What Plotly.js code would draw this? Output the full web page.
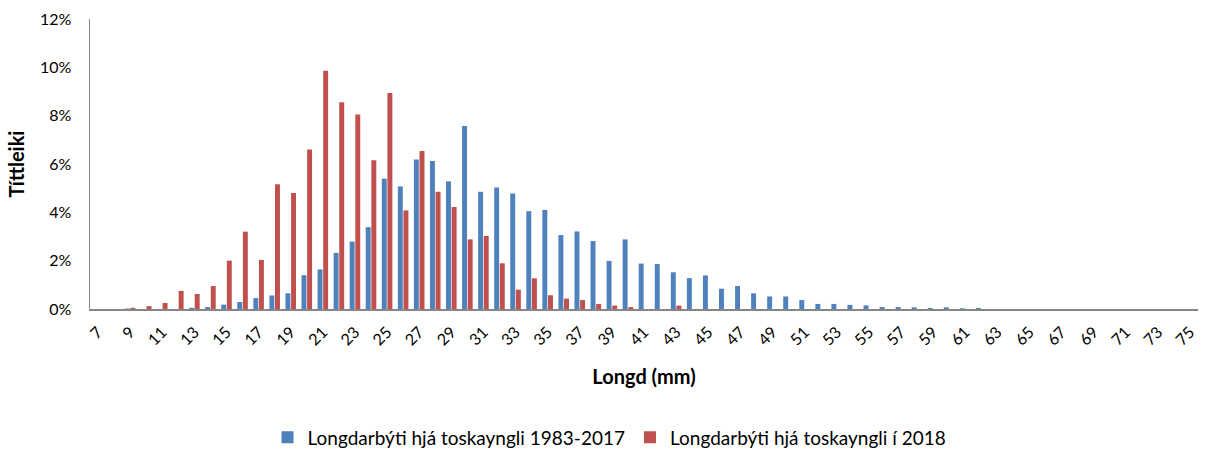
<!DOCTYPE html>
<html>
<head>
<meta charset="utf-8">
<script src="https://cdn.plot.ly/plotly-3.0.1.min.js"></script>
<style>html,body{margin:0;padding:0;background:#fff;}#chart{width:1207px;height:451px;}</style>
</head>
<body>
<div id="chart"></div>
<script>
// Length categories (mm)
const lengths = [];
for (let v = 7; v <= 75; v++) lengths.push(v);

// Share (%) per length, 1983-2017 (blue), lengths 7..75
const share19832017 = [
  0, 0, 0.02, 0, 0, 0, 0.05, 0.08, 0.18, 0.29, 0.45, 0.56, 0.65, 1.40, 1.64, 2.32, 2.79, 3.39, 5.39,
  5.07, 6.19, 6.12, 5.28, 7.57, 4.85, 5.03, 4.78, 4.05, 4.10, 3.06, 3.21, 2.81, 1.99, 2.88,
  1.88, 1.86, 1.52, 1.28, 1.39, 0.84, 0.95, 0.65, 0.52, 0.52, 0.37, 0.21, 0.21, 0.17, 0.15,
  0.08, 0.08, 0.07, 0.04, 0.07, 0.03, 0.04, 0, 0, 0, 0, 0, 0, 0, 0, 0, 0, 0, 0, 0
];
// Share (%) per length, 2018 (red)
const share2018 = [
  0, 0, 0.05, 0.12, 0.25, 0.75, 0.62, 0.95, 2.00, 3.20, 2.03, 5.16, 4.80, 6.60, 9.86, 8.56, 8.05, 6.16, 8.94,
  4.08, 6.54, 4.85, 4.22, 2.88, 3.02, 1.89, 0.80, 1.27, 0.57, 0.43, 0.37, 0.21, 0.14, 0.08,
  0, 0, 0.14, 0, 0, 0, 0, 0, 0, 0, 0, 0, 0, 0, 0,
  0, 0, 0, 0, 0, 0, 0, 0, 0, 0, 0, 0, 0, 0, 0, 0, 0, 0, 0, 0
];
const tickLabels = lengths.filter(v => v % 2 === 1);
const yTicks = [0, 2, 4, 6, 8, 10, 12];

const font = "Lato, 'Open Sans', sans-serif";

const traces = [
  {
    type: 'bar', name: 'Longdarbýti hjá toskayngli 1983-2017',
    x: lengths, y: share19832017.map(v => v / 100),
    marker: {color: '#4F81BD', line: {width: 0}}
  },
  {
    type: 'bar', name: 'Longdarbýti hjá toskayngli í 2018',
    x: lengths, y: share2018.map(v => v / 100),
    marker: {color: '#C0504D', line: {width: 0}}
  }
];

const layout = {
  width: 1207, height: 451,
  margin: {l: 90, r: 9, t: 19, b: 142},
  paper_bgcolor: '#fff', plot_bgcolor: '#fff',
  font: {family: font, color: '#000', size: 16},
  barmode: 'group', bargap: 0.3, bargroupgap: 0.12,
  showlegend: true,
  legend: {
    orientation: 'h', xref: 'container', yref: 'container',
    x: 0.505, xanchor: 'center', y: 0.03, yanchor: 'middle',
    font: {family: font, size: 19, color: '#000'},
    itemwidth: 30, traceorder: 'normal'
  },
  xaxis: {
    range: [6.5, 75.5],
    tickmode: 'array', tickvals: tickLabels, ticktext: tickLabels.map(String),
    tickangle: -45, showgrid: false, zeroline: false,
    showline: true, linecolor: '#868686', linewidth: 1.5,
    ticks: '', ticklabelstandoff: 6, tickfont: {size: 16, family: font},
    title: {text: '<b>Longd (mm)</b>', font: {size: 20, family: font}, standoff: 22}
  },
  yaxis: {
    range: [0, 0.12],
    tickmode: 'array', tickvals: yTicks.map(v => v / 100), ticktext: yTicks.map(v => v + '%'),
    showgrid: false, zeroline: false,
    showline: true, linecolor: '#868686', linewidth: 1.5,
    ticks: '', ticklabelstandoff: 14,
    tickfont: {size: 16, family: font},
    title: {text: '<b>Títtleiki</b>', font: {size: 20, family: font}, standoff: 10}
  }
};

Plotly.newPlot('chart', traces, layout, {displayModeBar: false, staticPlot: true});
</script>
</body>
</html>
